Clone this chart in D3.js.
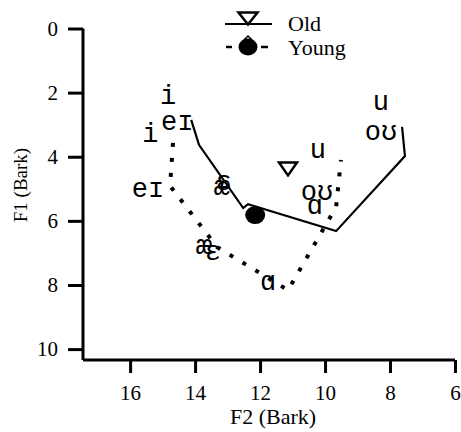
<!DOCTYPE html>
<html><head><meta charset="utf-8">
<script src="https://cdn.jsdelivr.net/npm/d3@7"></script>
<style>body{margin:0;background:#fff}svg{display:block}</style>
</head><body>
<script>
// Data (F2 Bark, F1 Bark)
const xTicks = [16, 14, 12, 10, 8, 6];
const yTicks = [0, 2, 4, 6, 8, 10];
const oldF2 = [14.12, 13.88, 12.52, 12.37, 9.66, 7.54, 7.63];
const oldF1 = [2.85, 3.63, 5.60, 5.48, 6.32, 3.98, 3.07];
const youngF2 = [14.68, 14.77, 13.32, 11.14, 9.66, 9.51];
const youngF1 = [3.57, 4.91, 6.82, 8.16, 5.57, 4.10];
const oldMean = [11.14, 4.38];
const youngMean = [12.15, 5.82];
const vowelLabels = ["i", "eɪ", "i", "eɪ", "æ", "ɛ", "æ", "ɛ", "ɑ", "ɑ", "oʊ", "u", "u", "oʊ"];
const labelF2 = [14.83, 14.55, 15.38, 15.45, 13.17, 13.12, 13.72, 13.45, 11.75, 10.31, 10.25, 10.22, 8.28, 8.28];
const labelF1 = [2.14, 2.95, 3.32, 5.04, 4.97, 4.82, 6.82, 7.0, 7.94, 5.57, 5.13, 3.82, 2.32, 3.26];
const legendLabels = ["Old", "Young"];

const W = 461, H = 432;
const svg = d3.select("body").append("svg").attr("width", W).attr("height", H);
const x = d3.scaleLinear().domain([17.45, 6]).range([83, 455]);
const y = d3.scaleLinear().domain([0, 10.34]).range([28.5, 360]);

const serif = "'Liberation Serif', 'Times New Roman', serif";
const mono = "'Liberation Mono', 'Courier New', monospace";

// axes
const yAxis = svg.append("g").attr("transform", "translate(83,0)")
  .call(d3.axisLeft(y).tickValues(yTicks).tickSizeOuter(0).tickSizeInner(15).tickPadding(10));
const xAxis = svg.append("g").attr("transform", "translate(0,360)")
  .call(d3.axisBottom(x).tickValues(xTicks).tickSizeOuter(0).tickSizeInner(13).tickPadding(12));
[yAxis, xAxis].forEach(g => {
  g.attr("font-family", serif).attr("font-size", 21);
  g.select(".domain").attr("stroke", "#000").attr("stroke-width", 3);
  g.selectAll(".tick line").attr("stroke", "#000").attr("stroke-width", 3);
  g.selectAll(".tick text").style("font-family", serif).style("font-size", "21px").attr("fill", "#000");
});
yAxis.select(".domain").attr("d", `M0,${y(0)}V${y(10.34)}`);
xAxis.select(".domain").attr("d", `M${x(17.45)},0H${x(6)}`);

// axis titles
svg.append("text").attr("x", 273).attr("y", 424).attr("text-anchor", "middle")
  .style("font-family", serif).style("font-size", "22px").attr("fill", "#000").text("F2 (Bark)");
svg.append("text").attr("transform", "translate(27,185) rotate(-90)").attr("text-anchor", "middle")
  .style("font-family", serif).style("font-size", "19px").attr("fill", "#000").text("F1 (Bark)");

const line = d3.line().x(d => x(d[0])).y(d => y(d[1]));
const oldPts = oldF2.map((v, i) => [v, oldF1[i]]);
const youngPts = youngF2.map((v, i) => [v, youngF1[i]]);

svg.append("path").attr("d", line(youngPts)).attr("fill", "none").attr("stroke", "#000")
  .attr("stroke-width", 4).attr("stroke-dasharray", "4 11");
svg.append("path").attr("d", line(oldPts)).attr("fill", "none").attr("stroke", "#000")
  .attr("stroke-width", 2.2).attr("stroke-linejoin", "miter");

// markers
function tri(cx, cy, w, h) {
  return `M${cx - w / 2},${cy - h / 2}L${cx + w / 2},${cy - h / 2}L${cx},${cy + h / 2}Z`;
}
svg.append("path").attr("d", tri(x(oldMean[0]), y(oldMean[1]), 18, 13))
  .attr("fill", "#fff").attr("stroke", "#000").attr("stroke-width", 2.5);
svg.append("ellipse").attr("cx", x(youngMean[0])).attr("cy", y(youngMean[1]))
  .attr("rx", 10).attr("ry", 9).attr("fill", "#000");

// vowel labels
svg.append("g").selectAll("text").data(vowelLabels).join("text")
  .attr("x", (d, i) => x(labelF2[i])).attr("y", (d, i) => y(labelF1[i]))
  .attr("text-anchor", "middle").attr("dominant-baseline", "central")
  .style("font-family", mono).style("font-size", "27px").attr("fill", "#000")
  .text(d => d);

// legend
const lg = svg.append("g");
lg.append("line").attr("x1", 225).attr("x2", 272).attr("y1", 24).attr("y2", 24)
  .attr("stroke", "#000").attr("stroke-width", 2.2);
lg.append("path").attr("d", tri(248, 18.5, 19, 12)).attr("fill", "#fff")
  .attr("stroke", "#000").attr("stroke-width", 2.5);
lg.append("line").attr("x1", 226).attr("x2", 232).attr("y1", 47).attr("y2", 47)
  .attr("stroke", "#000").attr("stroke-width", 2.5);
lg.append("line").attr("x1", 261).attr("x2", 268).attr("y1", 47).attr("y2", 47)
  .attr("stroke", "#000").attr("stroke-width", 2.5);
lg.append("path").attr("d", "M243,41L248,36L253,41").attr("fill", "none").attr("stroke", "#000").attr("stroke-width", 1.5);
lg.append("ellipse").attr("cx", 248).attr("cy", 47).attr("rx", 9.5).attr("ry", 8.5).attr("fill", "#000");
lg.selectAll("text.lab").data(legendLabels).join("text").attr("class", "lab")
  .attr("x", 288).attr("y", (d, i) => 31 + i * 24)
  .style("font-family", serif).style("font-size", "22px").attr("fill", "#000").text(d => d);
</script>
</body></html>
